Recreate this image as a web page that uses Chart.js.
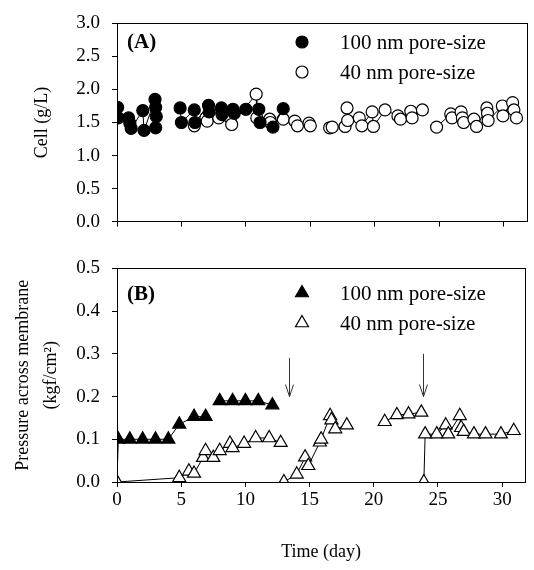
<!DOCTYPE html>
<html>
<head>
<meta charset="utf-8">
<script src="https://cdn.jsdelivr.net/npm/chart.js@4.4.1/dist/chart.umd.min.js"></script>
<style>
  body { margin: 0; background: #fff; }
  #wrap { position: relative; width: 534px; height: 570px; }
  canvas { position: absolute; left: 0; }
</style>
</head>
<body>
<div id="wrap">
  <canvas id="cellChart" width="534" height="245" style="top:0"></canvas>
  <canvas id="pressChart" width="534" height="325" style="top:245px"></canvas>
</div>
<script>
// Panel A: cell concentration (g/L) vs day
const cellDays100 = [0.05, 0.1, 0.9, 1.0, 1.1, 2.0, 2.1, 2.95, 3.0, 3.05, 3.0, 4,
  4.9, 5.0, 6.0, 6.05, 7.1, 7.15, 8.1, 8.15, 9.0, 9.1, 10.0, 11.0, 11.1, 12.1, 12.9];
const cell100 = [1.73, 1.57, 1.57, 1.49, 1.41, 1.68, 1.38, 1.85, 1.73, 1.59, 1.42, null,
  1.72, 1.50, 1.69, 1.50, 1.76, 1.66, 1.72, 1.62, 1.70, 1.64, 1.70, 1.70, 1.50, 1.43, 1.71];

const cellDays40 = [6.0, 6.9, 7.0, 7.9, 8.8, 8.9, 10.8, 10.85, 11.85, 11.9, 12.9, 13.8, 14.0, 14.9, 15.0, 15.8,
  16.5, 16.7, 17.7, 17.85, 17.9, 18.8, 19.0, 19.8, 19.9, 20.8, 21.8, 22.0, 22.8, 22.9, 23.7, 24.3,
  24.8, 25.9, 26.0, 26.7, 26.8, 26.9, 27.7, 27.9, 28.7, 28.75, 28.8, 29.9, 29.95, 30.7, 30.8, 31.0];
const cell40 = [1.45, 1.57, 1.52, 1.57, 1.57, 1.47, 1.93, 1.57, 1.55, 1.50, 1.55, 1.52, 1.45, 1.49, 1.45, null,
  1.42, 1.43, 1.44, 1.72, 1.53, 1.57, 1.45, 1.66, 1.44, 1.69, 1.60, 1.55, 1.67, 1.57, 1.69, null,
  1.43, 1.63, 1.57, 1.66, 1.57, 1.50, 1.55, 1.44, 1.72, 1.64, 1.53, 1.75, 1.60, 1.80, 1.69, 1.57];

// Panel B: pressure across membrane (kgf/cm2) vs day
const pressDays100 = [0, 0.1, 1, 2, 3, 4, 4.85, 6, 6.9, 7.5, 8, 9, 10, 11, 12.1];
const press100 = [0, 0.1, 0.1, 0.1, 0.1, 0.1, 0.135, 0.153, 0.153, null, 0.19, 0.19, 0.19, 0.19, 0.18];

const pressDays40 = [0, 4.85, 5.6, 6.0, 6.7, 6.9, 7.5, 8.0, 8.8, 9.0, 9.9, 10.8, 11.85, 12.75, 12.9,
  13.0, 14.0, 14.65, 14.9, 15.8, 15.9, 16.6, 16.7, 17.0, 17.9, 19,
  20.85, 21.8, 22.7, 23.7, 23.8,
  23.9, 24.0, 24.9, 25.6, 25.8, 26.7, 26.8, 27.0, 27.8, 28.7, 29.9, 30.9];
const press40 = [0, 0.01, 0.025, 0.02, 0.057, 0.073, 0.057, 0.073, 0.09, 0.08, 0.09, 0.103, 0.103, 0.092, null,
  0, 0.018, 0.058, 0.038, 0.093, 0.1, 0.155, 0.145, 0.124, 0.133, null,
  0.141, 0.157, 0.159, 0.163, null,
  0, 0.112, 0.112, 0.133, 0.112, 0.155, 0.127, 0.118, 0.112, 0.112, 0.112, 0.12];

// membrane change arrows: day, top value, tip value
const arrowDays = [13.4, 23.8];
const arrowTops = [0.29, 0.30];
const arrowTips = [0.20, 0.20];

const seriesLabels = ['100 nm pore-size', '40 nm pore-size'];
const dayTicks = [0, 5, 10, 15, 20, 25, 30];

const SERIF = '"Liberation Serif", "Times New Roman", serif';

function pairs(xs, ys) {
  return xs.map((x, i) => ({ x, y: ys[i] }));
}

// full frame around plot area
const framePlugin = {
  id: 'frame',
  afterDraw(chart) {
    const { ctx, chartArea: a } = chart;
    ctx.save();
    ctx.strokeStyle = '#000';
    ctx.lineWidth = 1;
    ctx.strokeRect(Math.round(a.left) + 0.5, Math.round(a.top) + 0.5,
      Math.round(a.right - a.left), Math.round(a.bottom - a.top));
    ctx.restore();
  }
};

function drawMarker(ctx, style, filled, x, y, r) {
  ctx.beginPath();
  if (style === 'circle') {
    ctx.arc(x, y, r, 0, Math.PI * 2);
  } else {
    for (let k = 0; k < 3; k++) {
      const ang = k * 2 * Math.PI / 3;
      const px = x + Math.sin(ang) * r, py = y - Math.cos(ang) * r;
      if (k === 0) ctx.moveTo(px, py); else ctx.lineTo(px, py);
    }
    ctx.closePath();
  }
  ctx.fillStyle = filled ? '#000' : '#fff';
  ctx.fill();
  ctx.lineWidth = 1.2;
  ctx.strokeStyle = '#000';
  ctx.stroke();
}

// panel letter + in-plot legend
function panelPlugin(letter, style, r, rows) {
  return {
    id: 'panel' + letter,
    afterDraw(chart) {
      const ctx = chart.ctx;
      ctx.save();
      ctx.fillStyle = '#000';
      ctx.textBaseline = 'middle';
      ctx.font = 'bold 21px ' + SERIF;
      ctx.fillText('(' + letter + ')', 127, rows.letterY);
      ctx.font = '21px ' + SERIF;
      seriesLabels.forEach((lab, i) => {
        const y = rows.y[i];
        drawMarker(ctx, style, i === 0, 302, y, r);
        ctx.fillStyle = '#000';
        ctx.fillText(lab, 340, y + 1);
      });
      ctx.restore();
    }
  };
}

const arrowPlugin = {
  id: 'arrows',
  afterDraw(chart) {
    const { ctx, scales: { x, y } } = chart;
    ctx.save();
    ctx.strokeStyle = '#333';
    ctx.lineWidth = 1;
    arrowDays.forEach((d, i) => {
      const px = Math.round(x.getPixelForValue(d)) + 0.5;
      const y0 = y.getPixelForValue(arrowTops[i]);
      const y1 = y.getPixelForValue(arrowTips[i]);
      ctx.beginPath();
      ctx.moveTo(px, y0);
      ctx.lineTo(px, y1);
      ctx.moveTo(px - 4, y1 - 12);
      ctx.lineTo(px, y1);
      ctx.lineTo(px + 4, y1 - 12);
      ctx.stroke();
    });
    ctx.restore();
  }
};

function xScale(showLabels, height, title) {
  return {
    type: 'linear',
    min: 0,
    max: 31.8,
    afterBuildTicks: s => { s.ticks = dayTicks.map(v => ({ value: v })); },
    afterFit: s => { s.height = height; },
    grid: { drawOnChartArea: false, drawTicks: true, tickLength: 5, color: '#000' },
    border: { display: true, color: '#000', width: 1 },
    ticks: {
      display: showLabels,
      color: '#000',
      padding: 2,
      maxRotation: 0,
      font: { family: SERIF, size: 19 }
    },
    title: title
  };
}

function yScale(max, step, title) {
  return {
    min: 0,
    max: max,
    afterFit: s => { s.width = 117; },
    grid: { drawOnChartArea: false, drawTicks: true, tickLength: 5, color: '#000' },
    border: { display: true, color: '#000', width: 1 },
    ticks: {
      stepSize: step,
      color: '#000',
      padding: 12,
      font: { family: SERIF, size: 19 },
      callback: v => Number(v).toFixed(1)
    },
    title: title
  };
}

const common = {
  responsive: false,
  animation: false,
  devicePixelRatio: 1,
  events: [],
  plugins: { legend: { display: false }, tooltip: { enabled: false } }
};

function lineSet(points, style, filled, radius) {
  return {
    data: points,
    showLine: true,
    spanGaps: false,
    borderColor: '#000',
    borderWidth: 1,
    pointStyle: style,
    pointRadius: radius,
    pointBackgroundColor: filled ? '#000' : '#fff',
    pointBorderColor: '#000',
    pointBorderWidth: 1.2
  };
}

new Chart(document.getElementById('cellChart'), {
  type: 'scatter',
  data: {
    datasets: [
      lineSet(pairs(cellDays100, cell100), 'circle', true, 6),
      lineSet(pairs(cellDays40, cell40), 'circle', false, 6)
    ]
  },
  options: {
    ...common,
    layout: { padding: { top: 16, right: 2, left: 0, bottom: 0 } },
    scales: {
      x: xScale(false, 14, { display: false }),
      y: yScale(3, 0.5, {
        display: true,
        text: 'Cell (g/L)',
        color: '#000',
        font: { family: SERIF, size: 18 },
        padding: { top: 31, bottom: 0 }
      })
    }
  },
  plugins: [framePlugin, panelPlugin('A', 'circle', 6, { letterY: 43, y: [42, 72] })]
});

new Chart(document.getElementById('pressChart'), {
  type: 'scatter',
  data: {
    datasets: [
      lineSet(pairs(pressDays100, press100), 'triangle', true,
        c => (c.raw && c.raw.y === 0 ? 0 : 7.5)),
      lineSet(pairs(pressDays40, press40), 'triangle', false, 7.5)
    ]
  },
  options: {
    ...common,
    layout: { padding: { top: 22, right: 2, left: 0, bottom: 0 } },
    scales: {
      x: xScale(true, 88, {
        display: true,
        text: 'Time (day)',
        color: '#000',
        font: { family: SERIF, size: 18 },
        padding: { top: 0, bottom: 7 }
      }),
      y: yScale(0.5, 0.1, {
        display: true,
        text: ['Pressure across membrane', '(kgf/cm\u00b2)'],
        color: '#000',
        font: { family: SERIF, size: 18, lineHeight: 1.55 },
        padding: { top: 9, bottom: 0 }
      })
    }
  },
  plugins: [framePlugin, arrowPlugin, panelPlugin('B', 'triangle', 7.5, { letterY: 50, y: [48, 78] })]
});
</script>
</body>
</html>
